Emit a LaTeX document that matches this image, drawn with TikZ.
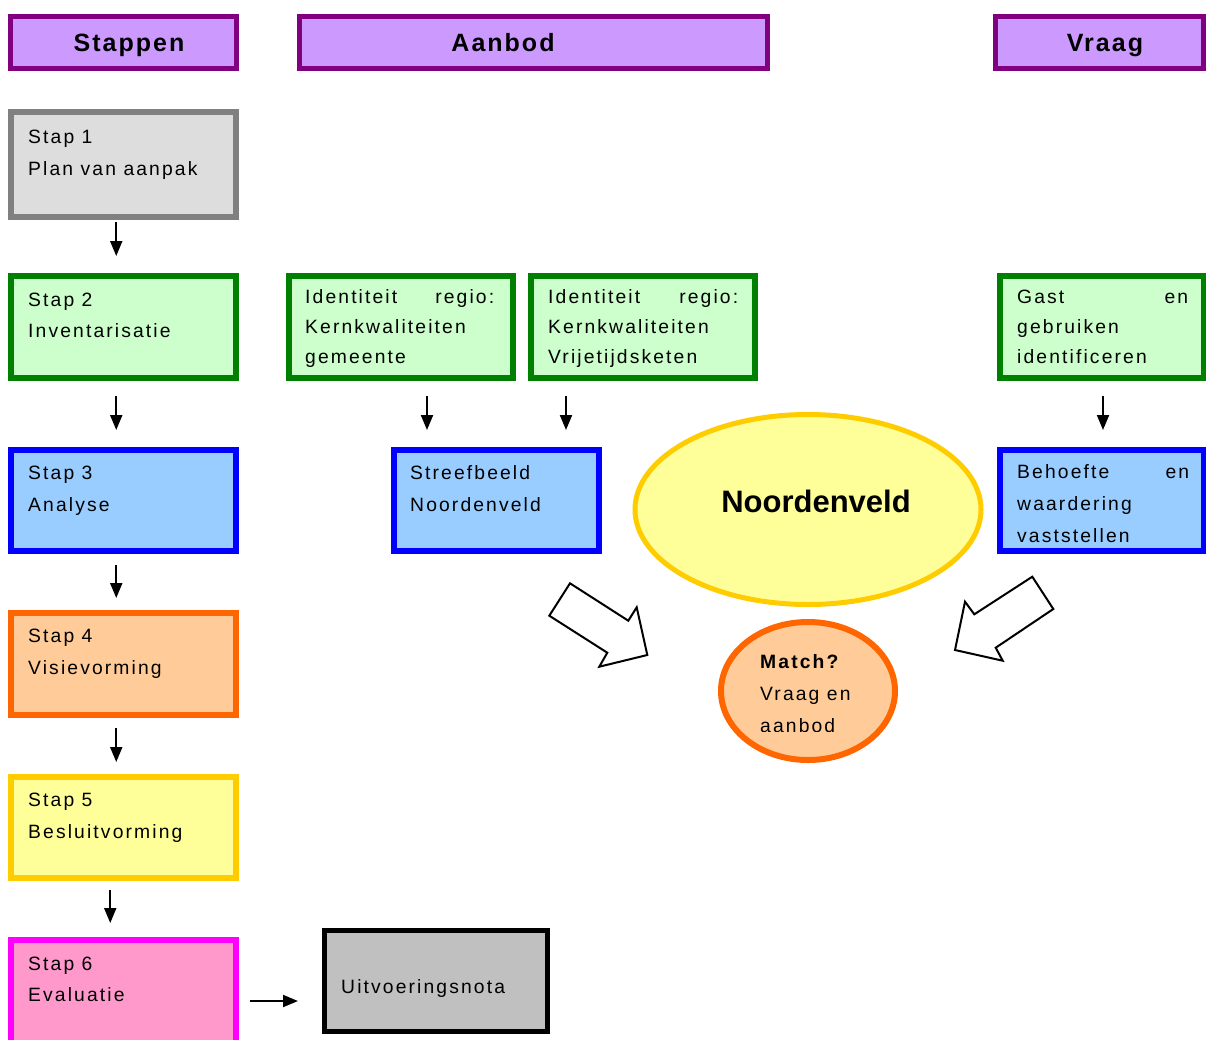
\documentclass[tikz,border=0pt]{standalone}
\usepackage{fontspec}
\setmainfont{Liberation Sans}[LetterSpace=11]
\newfontfamily\hdrfont{Liberation Sans}[LetterSpace=8]
\newfontfamily\nvfont{Liberation Sans}[LetterSpace=0]
\usetikzlibrary{shapes.geometric,arrows.meta,calc}
\definecolor{hdrc}{HTML}{800080}\definecolor{hdrf}{HTML}{CC99FF}
\definecolor{grc}{HTML}{808080}\definecolor{grf}{HTML}{DDDDDD}
\definecolor{gnc}{HTML}{008000}\definecolor{gnf}{HTML}{CCFFCC}
\definecolor{blc}{HTML}{0000FF}\definecolor{blf}{HTML}{99CCFF}
\definecolor{orc}{HTML}{FF6600}\definecolor{orf}{HTML}{FFCC99}
\definecolor{yec}{HTML}{FFCC00}\definecolor{yef}{HTML}{FFFF99}
\definecolor{pkc}{HTML}{FF00FF}\definecolor{pkf}{HTML}{FF99CC}
\definecolor{slf}{HTML}{C0C0C0}
\begin{document}
\begin{tikzpicture}[x=1pt,y=-1pt,
  bx/.style={rectangle, line width=6pt, inner sep=0pt, outer sep=0pt, anchor=north west},
  hdr/.style={rectangle, draw=hdrc, fill=hdrf, line width=5pt, inner sep=0pt, outer sep=0pt,
     minimum height=52pt},
  hdrtxt/.style={anchor=base, inner sep=0pt, font=\hdrfont\fontsize{25}{28}\selectfont\bfseries},
  graybox/.style={bx, draw=grc, fill=grf},
  greenbox/.style={bx, draw=gnc, fill=gnf},
  bluebox/.style={bx, draw=blc, fill=blf},
  orangebox/.style={bx, draw=orc, fill=orf},
  yellowbox/.style={bx, draw=yec, fill=yef},
  pinkbox/.style={bx, draw=pkc, fill=pkf},
  blackbox/.style={bx, draw=black, fill=slf, line width=5pt},
  txt/.style={anchor=base west, inner sep=0pt, font=\fontsize{19.3}{19}\selectfont},
  arr/.style={line width=2pt, -{Triangle[length=15pt,width=12pt]}},
  hollow/.style={line width=2pt, draw=black, fill=white, line join=miter}
]
\useasboundingbox (0,0) rectangle (1206,1039);
\clip (0,0) rectangle (1206,1039);

% headers
\node[hdr, minimum width=226pt] (hs) at (123,42) {};
\node[hdr, minimum width=468pt] (ha) at (533,42) {};
\node[hdr, minimum width=208pt] (hv) at (1099,42) {};
\node[hdrtxt] (hst) at (129,51) {Stappen};
\node[hdrtxt] (hat) at (503,51) {Aanbod};
\node[hdrtxt] (hvt) at (1105,51) {Vraag};

% steps
\node[graybox, minimum width=225.5pt, minimum height=105pt] (s1) at (10.5,112) {};
\node[greenbox, minimum width=225.5pt, minimum height=102pt] (s2) at (10.5,276) {};
\node[bluebox, minimum width=225.5pt, minimum height=101pt] (s3) at (10.5,450) {};
\node[orangebox, minimum width=225.5pt, minimum height=102pt] (s4) at (10.5,613) {};
\node[yellowbox, minimum width=225.5pt, minimum height=101pt] (s5) at (10.5,777) {};
\node[pinkbox, minimum width=225.5pt, minimum height=110pt] (s6) at (10.5,940) {};

\node[txt] (t1a) at (28,143) {Stap 1};
\node[txt] (t1b) at (28,175) {Plan van aanpak};
\node[txt] (t2a) at (28,306) {Stap 2};
\node[txt] (t2b) at (28,337) {Inventarisatie};
\node[txt] (t3a) at (28,479) {Stap 3};
\node[txt] (t3b) at (28,511) {Analyse};
\node[txt] (t4a) at (28,642) {Stap 4};
\node[txt] (t4b) at (28,674) {Visievorming};
\node[txt] (t5a) at (28,806) {Stap 5};
\node[txt] (t5b) at (28,838) {Besluitvorming};
\node[txt] (t6a) at (28,970) {Stap 6};
\node[txt] (t6b) at (28,1001) {Evaluatie};

% aanbod / vraag boxes
\node[greenbox, minimum width=224pt, minimum height=102pt] (id1) at (289,276) {};
\node[greenbox, minimum width=224pt, minimum height=102pt] (id2) at (531,276) {};
\node[greenbox, minimum width=204pt, minimum height=102pt] (gast) at (1000,276) {};
\node[bluebox, minimum width=205pt, minimum height=101pt] (sb) at (394,450) {};
\node[bluebox, minimum width=204pt, minimum height=101pt] (beh) at (1000,450) {};
\node[blackbox, minimum width=223pt, minimum height=101pt] (u) at (324,930) {};

\node[txt] (i1a) at (305,303) {\makebox[189pt][s]{Identiteit regio:}};
\node[txt] (i1b) at (305,333) {Kernkwaliteiten};
\node[txt] (i1c) at (305,363) {gemeente};
\node[txt] (i2a) at (548,303) {\makebox[190pt][s]{Identiteit regio:}};
\node[txt] (i2b) at (548,333) {Kernkwaliteiten};
\node[txt] (i2c) at (548,363) {Vrijetijdsketen};
\node[txt] (ga) at (1017,303) {\makebox[171pt][s]{Gast en}};
\node[txt] (gb) at (1017,333) {gebruiken};
\node[txt] (gc) at (1017,363) {identificeren};
\node[txt] (sba) at (410,479) {Streefbeeld};
\node[txt] (sbb) at (410,511) {Noordenveld};
\node[txt] (ba) at (1017,478) {\makebox[172pt][s]{Behoefte en}};
\node[txt] (bb) at (1017,510) {waardering};
\node[txt] (bc) at (1017,542) {vaststellen};
\node[txt] (ut) at (341,993) {Uitvoeringsnota};

% ellipses
\node[ellipse, draw=yec, fill=yef, line width=5pt, inner sep=0pt, outer sep=0pt,
      minimum width=346pt, minimum height=190pt] (nv) at (808,509.5) {};
\node[anchor=base, inner sep=0pt, font=\nvfont\fontsize{31}{31}\selectfont\bfseries] (nvt) at (816,512) {Noordenveld};
\node[ellipse, draw=orc, fill=orf, line width=6pt, inner sep=0pt, outer sep=0pt,
      minimum width=174pt, minimum height=138pt] (m) at (808,691) {};
\node[txt, font=\fontsize{19.3}{19}\selectfont\bfseries] (ma) at (760,668) {Match?};
\node[txt] (mb) at (760,700) {Vraag en};
\begin{scope}
\clip (740,705) rectangle (880,731);
\node[txt] (mc) at (760,732) {aanbod};
\end{scope}

% connectors
\draw[arr] ($(s1.south)+(-7,5)$) -- ($(s2.north)+(-7,-20)$);
\draw[arr] ($(s2.south)+(-7,18)$) -- ($(s3.north)+(-7,-20)$);
\draw[arr] ($(s3.south)+(-7,14)$) -- ($(s4.north)+(-7,-15)$);
\draw[arr] ($(s4.south)+(-7,13)$) -- ($(s5.north)+(-7,-15)$);
\draw[arr] ($(s5.south)+(-13,12)$) -- ($(s6.north)+(-13,-17)$);
\draw[arr] ($(s6.north east)+(14,61)$) -- ($(u.north west)+(-26,71)$);
\draw[arr] ($(id1.south)+(26,18)$) -- ($(sb.north)+(-69.5,-20)$);
\draw[arr] ($(id2.south)+(-77,18)$) -- ($(sb.north)+(69.5,-20)$);
\draw[arr] ($(gast.south)+(1,18)$) -- ($(beh.north)+(1,-20)$);

% hollow block arrows
\draw[hollow] (570,583.3) -- (628.3,620.7) -- (636.7,607.3) -- (647.3,655) -- (599.3,666.7) -- (607.3,652.7) -- (549.3,615.7) -- cycle;
\draw[hollow] (1032.3,576.7) -- (1053.3,609) -- (995.7,647.7) -- (1002.7,660.7) -- (955,650) -- (965,601.7) -- (974.3,614.3) -- cycle;
\end{tikzpicture}
\end{document}
